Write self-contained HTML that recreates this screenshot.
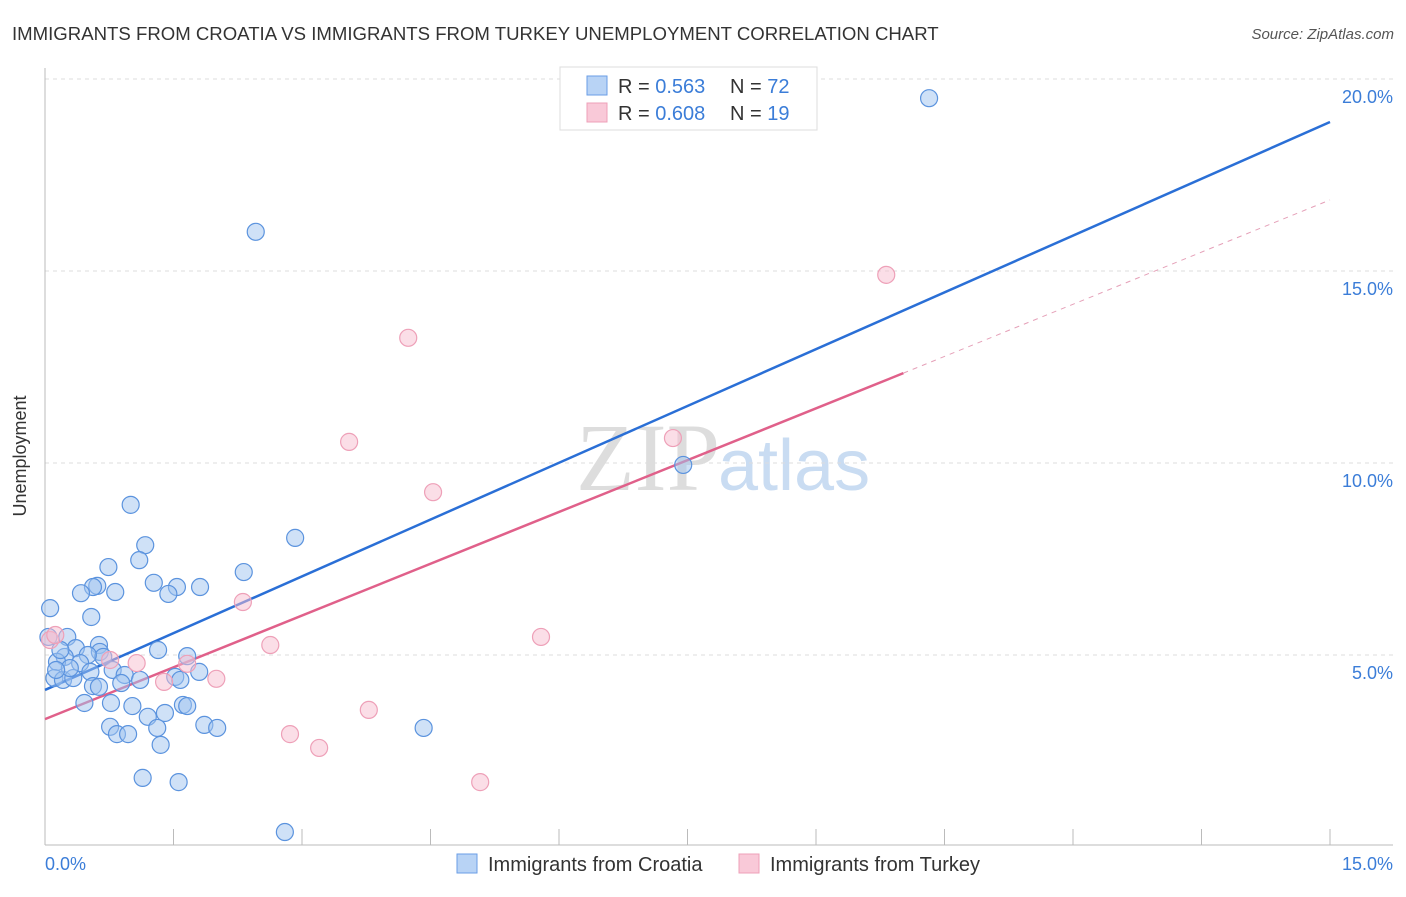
<!DOCTYPE html>
<html><head><meta charset="utf-8"><style>
body{margin:0;background:#fff;font-family:"Liberation Sans",sans-serif;}
</style></head><body>
<svg id="chart" width="1406" height="892" xmlns="http://www.w3.org/2000/svg">
<text x="12" y="40" font-size="18.6" fill="#333">IMMIGRANTS FROM CROATIA VS IMMIGRANTS FROM TURKEY UNEMPLOYMENT CORRELATION CHART</text>
<text x="1394" y="39" font-size="15" fill="#555" font-style="italic" text-anchor="end">Source: ZipAtlas.com</text>
<text x="720" y="490" font-size="96" font-family="Liberation Serif,serif" fill="#ddd" text-anchor="end">ZIP</text>
<text x="718" y="490" font-size="72" fill="#c9dcf2">atlas</text>
<g id="grid"></g>
<line x1="45" y1="68" x2="45" y2="845" stroke="#bbb"/>
<line x1="45" y1="845" x2="1393" y2="845" stroke="#bbb"/>
<g id="xticks"></g>
<text x="26" y="456" font-size="18" fill="#333" transform="rotate(-90 26 456)" text-anchor="middle">Unemployment</text>
<text x="45" y="870" font-size="18" fill="#3b7dd8">0.0%</text>
<text x="1393" y="870" font-size="18" fill="#3b7dd8" text-anchor="end">15.0%</text>
<g id="trend"></g>
<g id="points"></g>
<g>
<rect x="560" y="67" width="257" height="63" fill="#fff" stroke="#ddd"/>
<rect x="587" y="76" width="20" height="19" fill="#b8d3f5" stroke="#6a9ee6"/>
<rect x="587" y="103" width="20" height="19" fill="#f9c9d8" stroke="#eea0b8"/>
<text x="618" y="93" font-size="20" fill="#333">R = <tspan fill="#3b7dd8">0.563</tspan><tspan x="730">N = </tspan><tspan fill="#3b7dd8">72</tspan></text>
<text x="618" y="120" font-size="20" fill="#333">R = <tspan fill="#3b7dd8">0.608</tspan><tspan x="730">N = </tspan><tspan fill="#3b7dd8">19</tspan></text>
</g>
<g>
<rect x="457" y="854" width="20" height="19" fill="#b8d3f5" stroke="#6a9ee6"/>
<text x="488" y="871" font-size="20" fill="#333">Immigrants from Croatia</text>
<rect x="739" y="854" width="20" height="19" fill="#f9c9d8" stroke="#eea0b8"/>
<text x="770" y="871" font-size="20" fill="#333">Immigrants from Turkey</text>
</g>
</svg>
<script>
const yTicks=[5,10,15,20];
const yTickLabels=["5.0%","10.0%","15.0%","20.0%"];
const xTickValues=[0,1.5,3,4.5,6,7.5,9,10.5,12,13.5,15];
const croatiaX=[10.32,2.46,7.45,2.92,1.00,1.17,1.10,0.74,2.32,1.27,1.81,1.54,1.44,0.61,0.56,0.42,0.82,0.06,0.54,0.04,0.26,0.63,1.32,1.66,0.36,0.64,0.68,0.50,0.23,0.14,0.41,0.79,0.93,0.11,0.21,0.33,0.53,1.11,1.52,1.80,1.58,0.89,0.56,0.63,0.46,0.77,1.02,1.61,1.66,1.40,1.20,0.76,1.31,1.86,2.01,4.42,0.84,0.97,1.35,1.14,1.56,2.80,0.18,0.29,0.13];
const croatiaY=[19.50,16.02,9.95,8.05,8.91,7.86,7.47,7.29,7.16,6.88,6.77,6.77,6.59,6.80,6.77,6.61,6.64,6.22,5.99,5.47,5.47,5.26,5.13,4.97,5.18,5.08,4.95,5.00,4.95,4.82,4.79,4.61,4.48,4.40,4.35,4.40,4.56,4.35,4.43,4.56,4.35,4.27,4.19,4.17,3.75,3.75,3.67,3.70,3.67,3.49,3.39,3.13,3.10,3.18,3.10,3.10,2.94,2.94,2.66,1.80,1.69,0.39,5.13,4.66,4.61];
const turkeyX=[9.82,4.24,3.55,7.33,4.53,2.31,5.79,2.63,1.07,1.66,2.00,1.39,3.78,2.86,3.20,5.08,0.06,0.12,0.76];
const turkeyY=[14.90,13.26,10.55,10.65,9.24,6.38,5.47,5.26,4.79,4.77,4.38,4.30,3.57,2.94,2.58,1.69,5.39,5.52,4.87];
const croatiaTrend=[[0,4.09],[15,18.88]];
const turkeyTrendSolid=[[0,3.33],[10.02,12.34]];
const turkeyTrendDash=[[10.02,12.34],[15,16.85]];

const NS="http://www.w3.org/2000/svg";
const xs=v=>45+v/15*1285;
const ys=v=>847-v/5*192;
function mk(tag,attrs,parent){const e=document.createElementNS(NS,tag);for(const k in attrs)e.setAttribute(k,attrs[k]);parent.appendChild(e);return e;}
const grid=document.getElementById('grid');
yTicks.forEach((t,i)=>{
 const l=mk('line',{x1:45,x2:1393,y1:ys(t),y2:ys(t),stroke:'#ddd','stroke-dasharray':'4,4'},grid);
 
 
 const tx=mk('text',{x:1393,y:ys(t)+24,'font-size':18,fill:'#3b7dd8','text-anchor':'end'},grid);
 tx.textContent=yTickLabels[i];
 
 
});
const xt=document.getElementById('xticks');
xTickValues.forEach(v=>{
 const l=mk('line',{x1:xs(v),x2:xs(v),y1:829,y2:845,stroke:'#bbb'},xt);
 
 
});
const pts=document.getElementById('points');
croatiaX.forEach((x,i)=>{
 const c=mk('circle',{cx:xs(x),cy:ys(croatiaY[i]),r:8.5,fill:'rgba(160,196,240,0.5)',stroke:'#5b93de','stroke-width':1.2},pts);
 
 
});
turkeyX.forEach((x,i)=>{
 const c=mk('circle',{cx:xs(x),cy:ys(turkeyY[i]),r:8.5,fill:'rgba(248,190,208,0.5)',stroke:'#eea0b8','stroke-width':1.2},pts);
 
 
});
const tr=document.getElementById('trend');
function line(p,color,w,dash,name){
 const l=mk('line',{x1:xs(p[0][0]),y1:ys(p[0][1]),x2:xs(p[1][0]),y2:ys(p[1][1]),stroke:color,'stroke-width':w},tr);
 if(dash)l.setAttribute('stroke-dasharray',dash);
 
 
}
line(turkeyTrendDash,'#e5a0b8',1,'5,5','trend-turkey-extension');
line(croatiaTrend,'#2a6fd6',2.5,null,'trend-croatia');
line(turkeyTrendSolid,'#e0608a',2.5,null,'trend-turkey');
</script>
</body></html>
